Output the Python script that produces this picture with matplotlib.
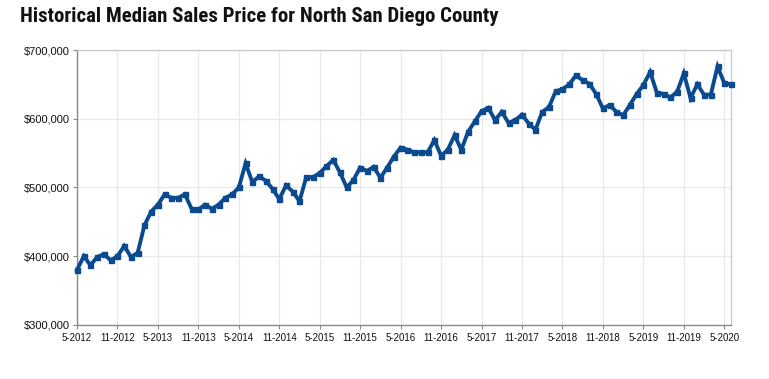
import matplotlib
matplotlib.use("Agg")
import matplotlib.pyplot as plt
from matplotlib.ticker import FuncFormatter, FixedLocator

# Monthly median sales price, 5-2012 .. 6-2020 (in $1000s)
prices_k = [380, 400, 387, 399, 403, 394, 400, 415, 399, 405, 445, 465,
            475, 490, 485, 485, 490, 469, 468, 475, 469, 475, 485, 490,
            500, 535, 508, 516, 510, 498, 483, 503, 494, 480, 515, 515,
            521, 531, 540, 522, 500, 511, 529, 524, 530, 514, 529, 545,
            558, 555, 551, 551, 551, 569, 546, 555, 576, 555, 581, 596,
            611, 616, 598, 610, 594, 598, 606, 593, 584, 610, 617, 640,
            643, 650, 663, 656, 651, 636, 615, 620, 610, 605, 620, 636,
            649, 668, 638, 636, 631, 639, 666, 630, 650, 635, 635, 676,
            652, 650]
tick_labels = ["5-2012", "11-2012", "5-2013", "11-2013", "5-2014", "11-2014",
               "5-2015", "11-2015", "5-2016", "11-2016", "5-2017", "11-2017",
               "5-2018", "11-2018", "5-2019", "11-2019", "5-2020"]
y_ticks = [300000, 400000, 500000, 600000, 700000]
title = "Historical Median Sales Price for North San Diego County"

prices = [p * 1000 for p in prices_k]
x = list(range(len(prices)))

fig = plt.figure(figsize=(7.69, 3.79), dpi=100)
ax = fig.add_axes([77 / 769, 1 - 325 / 379, (731 - 77) / 769, (325 - 50) / 379])

ax.plot(x, prices, color="#0b4a8f", lw=2.8, marker="s", ms=3.6,
        solid_joinstyle="miter", zorder=3, clip_on=False)

ax.set_xlim(0, len(prices) - 1)
ax.set_ylim(y_ticks[0], y_ticks[-1])
ax.xaxis.set_major_locator(FixedLocator([6 * i for i in range(len(tick_labels))]))
ax.set_xticklabels(tick_labels)
ax.set_yticks(y_ticks)
ax.yaxis.set_major_formatter(FuncFormatter(lambda v, p: "${:,.0f}".format(v)))

ax.grid(True, color="#e8e8e8", lw=0.9, zorder=0)
for side in ["top", "right"]:
    ax.spines[side].set_color("#c8c8c8")
    ax.spines[side].set_linewidth(0.9)
for side in ["left", "bottom"]:
    ax.spines[side].set_color("#8a8a8a")
    ax.spines[side].set_linewidth(1.0)

ax.tick_params(axis="x", labelsize=7, length=3, color="#8a8a8a", pad=3,
               labelcolor="#111111")
ax.tick_params(axis="y", labelsize=8, length=3, color="#8a8a8a", pad=2,
               labelcolor="#111111")
for lab in ax.get_xticklabels() + ax.get_yticklabels():
    lab.set_fontfamily(["Liberation Sans", "DejaVu Sans"])

fig.text(20 / 769, 1 - 17 / 379, title, ha="left", va="center",
         fontsize=15, fontweight="bold",
         family=["Roboto Condensed", "Roboto", "DejaVu Sans"],
         color="#111111")

fig.savefig("out.png", dpi=100, facecolor="white")
